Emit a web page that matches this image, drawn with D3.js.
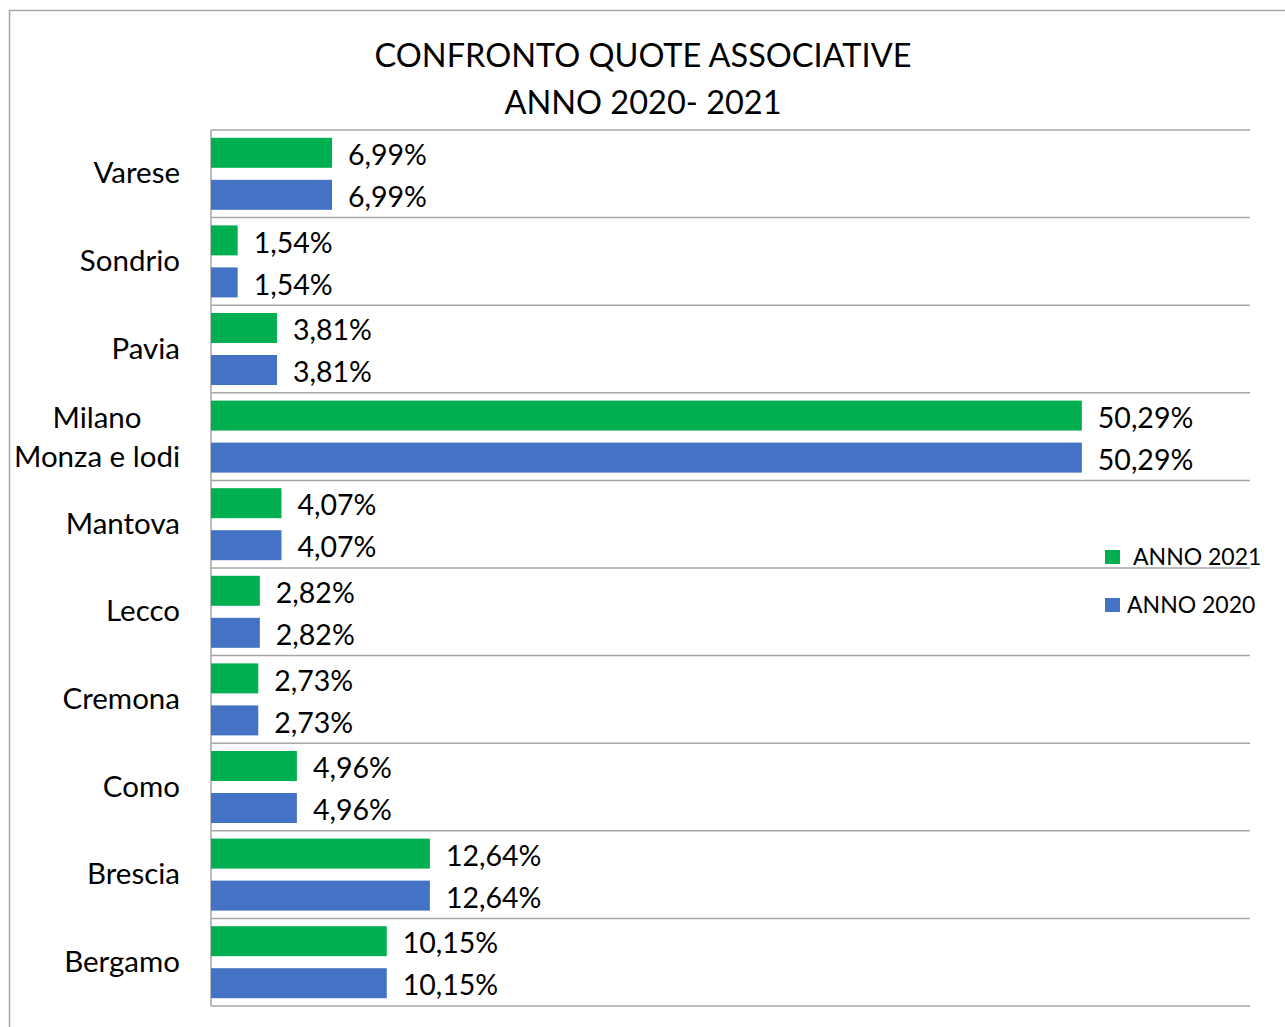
<!DOCTYPE html>
<html>
<head>
<meta charset="utf-8">
<script src="https://cdn.jsdelivr.net/npm/d3@7"></script>
<style>
  body { margin: 0; background: #fff; }
  svg { display: block; font-family: Lato, "Open Sans", sans-serif; }
  .grid line { stroke: #a6a6a6; stroke-width: 1.5px; }
  .catLabel, .valLabel, .title, .legendText { fill: #000; }
</style>
</head>
<body>
<script>
// data (percent)
var categories = ["Varese", "Sondrio", "Pavia", "Milano\nMonza e lodi", "Mantova",
                  "Lecco", "Cremona", "Como", "Brescia", "Bergamo"];
var seriesNames = ["ANNO 2021", "ANNO 2020"];
var values2021 = [6.99, 1.54, 3.81, 50.29, 4.07, 2.82, 2.73, 4.96, 12.64, 10.15];
var values2020 = [6.99, 1.54, 3.81, 50.29, 4.07, 2.82, 2.73, 4.96, 12.64, 10.15];
var titleLines = ["CONFRONTO QUOTE ASSOCIATIVE", "ANNO 2020- 2021"];
var colors = ["#00b050", "#4472c4"];

var width = 1285, height = 1027;
var plot = {left: 211, right: 1250, top: 130, bottom: 1006};

var itLocale = d3.formatLocale({decimal: ",", thousands: ".", grouping: [3], currency: ["€", ""]});
var fmt = function(v){ return itLocale.format(".2f")(v) + "%"; };

var svg = d3.select("body").append("svg")
    .attr("width", width)
    .attr("height", height);

// chart border
svg.append("rect")
    .attr("x", 9.5).attr("y", 10.5)
    .attr("width", width + 20).attr("height", height + 20)
    .attr("fill", "none")
    .attr("stroke", "#a6a6a6")
    .attr("stroke-width", 1.5);

// title
svg.selectAll("text.title")
    .data(titleLines)
  .enter().append("text")
    .attr("class", "title")
    .attr("x", 643)
    .attr("y", function(d, i){ return 67 + i * 47; })
    .attr("text-anchor", "middle")
    .style("font-size", "32.5px")
    .text(function(d){ return d; });

//scales
var xScale = d3.scaleLinear()
    .domain([0, 60])
    .range([plot.left, plot.right]);

var pi = 0.178;
var yScale = d3.scaleBand()
    .domain(categories)
    .range([plot.top, plot.bottom])
    .paddingInner(pi)
    .paddingOuter(pi / 2);

var ySub = d3.scaleBand()
    .domain(seriesNames)
    .range([0, yScale.bandwidth()])
    .paddingInner(0.286);

// grid lines at category boundaries
var bounds = categories.map(function(c){ return yScale(c) - yScale.step() * pi / 2; });
bounds.push(plot.bottom);
svg.append("g").attr("class", "grid")
  .selectAll("line")
    .data(bounds)
  .enter().append("line")
    .attr("x1", plot.left).attr("x2", plot.right)
    .attr("y1", function(d){ return d; })
    .attr("y2", function(d){ return d; });

// left axis line
svg.append("line")
    .attr("x1", plot.left).attr("x2", plot.left)
    .attr("y1", plot.top).attr("y2", plot.bottom)
    .attr("stroke", "#a6a6a6")
    .attr("stroke-width", 1.5);

// bars
var rows = categories.map(function(c, i){
  return {cat: c, vals: [
    {series: seriesNames[0], value: values2021[i], color: colors[0]},
    {series: seriesNames[1], value: values2020[i], color: colors[1]}
  ]};
});

var groups = svg.selectAll("g.cat")
    .data(rows)
  .enter().append("g")
    .attr("class", "cat")
    .attr("transform", function(d){ return "translate(0," + yScale(d.cat) + ")"; });

groups.selectAll("rect")
    .data(function(d){ return d.vals; })
  .enter().append("rect")
    .attr("x", xScale(0))
    .attr("y", function(d){ return ySub(d.series); })
    .attr("width", function(d){ return xScale(d.value) - xScale(0); })
    .attr("height", ySub.bandwidth())
    .attr("fill", function(d){ return d.color; });

groups.selectAll("text.valLabel")
    .data(function(d){ return d.vals; })
  .enter().append("text")
    .attr("class", "valLabel")
    .attr("x", function(d){ return xScale(d.value) + 16; })
    .attr("y", function(d){ return ySub(d.series) + ySub.bandwidth() / 2 + 2; })
    .attr("dy", "0.36em")
    .style("font-size", "28.5px")
    .text(function(d){ return fmt(d.value); });

// category labels
groups.each(function(d){
  var lines = d.cat.split("\n");
  var cy = yScale.bandwidth() / 2;
  var t = d3.select(this).append("text")
      .attr("class", "catLabel")
      .style("font-size", "29.5px");
  if(lines.length == 1){
    t.attr("x", 180).attr("y", cy - 1).attr("dy", "0.36em")
      .attr("text-anchor", "end").text(lines[0]);
  } else {
    // two lines centred on each other, block right-aligned
    var cx = 97;
    t.attr("text-anchor", "middle");
    lines.forEach(function(l, i){
      t.append("tspan").attr("x", cx)
        .attr("y", cy + (i - 0.5) * 39)
        .attr("dy", "0.36em")
        .text(l);
    });
  }
});

// legend
var legend = svg.append("g").attr("class", "legend");
var legendY = [557, 605];
var legendTextX = [1133, 1127];
seriesNames.forEach(function(name, i){
  legend.append("rect")
      .attr("x", 1105).attr("y", legendY[i] - 7)
      .attr("width", 15).attr("height", 14)
      .attr("fill", colors[i]);
  legend.append("text")
      .attr("class", "legendText")
      .attr("x", legendTextX[i])
      .attr("y", legendY[i])
      .attr("dy", "0.36em")
      .style("font-size", "23px")
      .text(name);
});
</script>
</body>
</html>
